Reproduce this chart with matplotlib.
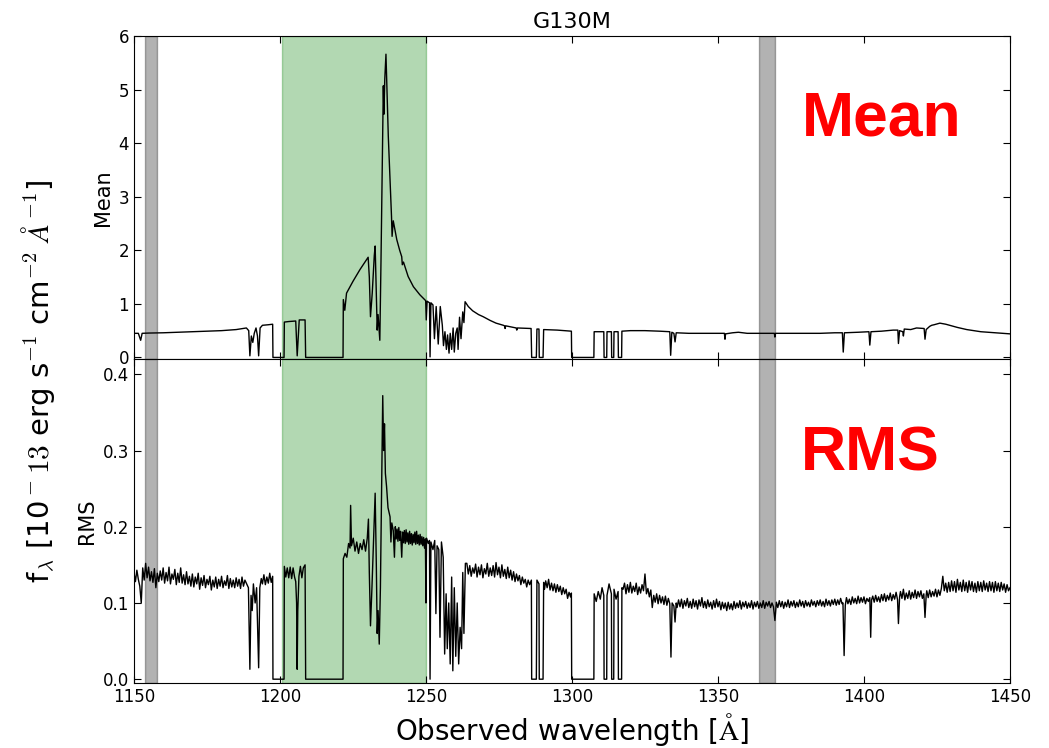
import matplotlib
matplotlib.use("Agg")
import matplotlib.pyplot as plt
import numpy as np

plt.rcParams['mathtext.fontset'] = 'cm'
plt.rcParams['font.family'] = 'DejaVu Sans'

# --- data (wavelength [A], value) ---
mean_pts = [
    (1150.0, 0.45), (1151.5, 0.45), (1152.3, 0.32), (1152.8, 0.45), (1155, 0.455),
    (1160, 0.46), (1165, 0.47), (1170, 0.48), (1175, 0.49), (1180, 0.50),
    (1185, 0.52), (1188.5, 0.55), (1189.3, 0.50), (1189.7, 0.03), (1190.2, 0.40),
    (1190.7, 0.28), (1191.2, 0.45), (1191.8, 0.55), (1192.3, 0.40), (1192.7, 0.03),
    (1193.2, 0.55), (1194, 0.60), (1196, 0.61), (1197.5, 0.62), (1197.6, 0.0),
    (1201.4, 0.0), (1201.5, 0.66), (1203, 0.67), (1205.4, 0.68), (1205.9, 0.03),
    (1206.6, 0.70), (1208.6, 0.70), (1208.8, 0.0), (1221.6, 0.0), (1221.7, 1.08),
    (1222.2, 0.88), (1222.8, 1.20), (1224, 1.32), (1225, 1.42), (1226.3, 1.54),
    (1227.4, 1.64), (1228.5, 1.73), (1229.4, 1.80), (1230.2, 1.87), (1230.6, 1.5),
    (1231.0, 0.76), (1231.6, 1.2), (1232.3, 1.9), (1232.6, 2.08), (1233.0, 1.2),
    (1233.3, 0.51), (1233.6, 0.8), (1233.9, 0.55), (1234.2, 0.32), (1234.6, 1.8),
    (1235.1, 3.8), (1235.4, 5.07), (1235.6, 4.54), (1235.9, 5.2), (1236.3, 5.66),
    (1236.7, 4.9), (1237.1, 4.13), (1237.7, 3.3), (1238.2, 2.63), (1238.4, 2.26),
    (1238.8, 2.55), (1240.0, 2.2), (1241.0, 2.0), (1241.7, 1.88), (1241.9, 1.73),
    (1242.3, 1.78), (1243.9, 1.51), (1245.7, 1.32), (1247.9, 1.17), (1249.9, 1.06),
    (1250.1, 0.70), (1250.4, 1.05), (1251.2, 1.02), (1251.4, 0.01), (1251.7, 1.02),
    (1252.4, 0.98), (1252.9, 0.35), (1253.5, 0.95), (1254.2, 0.25), (1254.9, 0.95),
    (1255.6, 0.6), (1256.0, 0.22), (1256.5, 0.48), (1257.0, 0.15), (1257.4, 0.42),
    (1257.9, 0.08), (1258.3, 0.45), (1258.8, 0.15), (1259.3, 0.55), (1259.7, 0.10),
    (1260.2, 0.45), (1260.7, 0.55), (1261.0, 0.15), (1261.5, 0.75), (1262.0, 0.35),
    (1262.6, 0.85), (1263.0, 0.65), (1263.4, 1.04), (1264.5, 0.95), (1266, 0.87),
    (1268, 0.80), (1269.6, 0.76), (1272, 0.69), (1274, 0.64), (1276.5, 0.60),
    (1276.9, 0.59), (1277.1, 0.54), (1277.3, 0.59), (1280, 0.56), (1280.9, 0.55),
    (1281.1, 0.51), (1281.3, 0.55), (1285.6, 0.54), (1286.0, 0.54), (1286.2, 0.0),
    (1287.8, 0.0), (1288.0, 0.53), (1288.7, 0.53), (1288.8, 0.0), (1290.1, 0.0),
    (1290.3, 0.52), (1295, 0.51), (1299.8, 0.49), (1299.9, 0.0), (1307.5, 0.0),
    (1307.6, 0.48), (1310.9, 0.48), (1311.0, 0.0), (1311.9, 0.0), (1312.0, 0.48),
    (1313.5, 0.48), (1313.6, 0.0), (1314.3, 0.0), (1314.4, 0.48), (1315.8, 0.48),
    (1315.9, 0.0), (1317.0, 0.0), (1317.1, 0.49), (1320, 0.50), (1325, 0.50),
    (1330, 0.49), (1333.5, 0.48), (1333.8, 0.04), (1334.2, 0.47), (1334.9, 0.45),
    (1335.3, 0.29), (1335.7, 0.46), (1340, 0.45), (1345, 0.45), (1350, 0.45),
    (1352.2, 0.45), (1352.4, 0.34), (1352.6, 0.44), (1355, 0.46), (1357, 0.47),
    (1360, 0.45), (1365, 0.45), (1369.3, 0.45), (1369.5, 0.38), (1369.7, 0.45),
    (1375, 0.45), (1380, 0.45), (1385, 0.45), (1390, 0.46), (1392.6, 0.46),
    (1392.9, 0.10), (1393.3, 0.46), (1398, 0.47), (1401.7, 0.48), (1402.0, 0.23),
    (1402.4, 0.48), (1406, 0.49), (1410, 0.51), (1411.6, 0.51), (1411.8, 0.26),
    (1412.2, 0.50), (1413.3, 0.48), (1413.5, 0.40), (1413.8, 0.53), (1416, 0.52),
    (1418, 0.55), (1420.6, 0.54), (1420.9, 0.34), (1421.3, 0.52), (1422.5, 0.58),
    (1423.2, 0.60), (1424, 0.61), (1426, 0.64), (1428, 0.62), (1432, 0.56),
    (1435.2, 0.52), (1440, 0.48), (1445, 0.46), (1450, 0.44),
]

rms_pts = [
    # blue continuum
    (1150.0, .140), (1150.5, .128), (1151.0, .143), (1151.5, .131), (1152.0, .122),
    (1152.5, .100), (1153.0, .146), (1153.5, .130), (1154.0, .152), (1154.5, .133),
    (1155.0, .147), (1155.5, .129), (1156.0, .141), (1156.5, .127), (1157.0, .145),
    (1157.5, .120), (1158.0, .139), (1158.5, .128), (1159.0, .142), (1159.5, .130),
    (1160.0, .146), (1160.5, .126), (1161.0, .140), (1161.5, .129), (1162.0, .147),
    (1162.5, .125), (1163.0, .138), (1163.5, .131), (1164.0, .144), (1164.5, .124),
    (1165.0, .139), (1165.5, .127), (1166.0, .146), (1166.5, .126), (1167.0, .137),
    (1167.5, .124), (1168.0, .141), (1168.5, .125), (1169.0, .135), (1169.5, .122),
    (1170.0, .138), (1170.5, .121), (1171.0, .134), (1171.5, .125), (1172.0, .139),
    (1172.5, .118), (1173.0, .133), (1173.5, .123), (1174.0, .136), (1174.5, .120),
    (1175.0, .131), (1175.5, .124), (1176.0, .135), (1176.5, .117), (1177.0, .130),
    (1177.5, .121), (1178.0, .134), (1178.5, .119), (1179.0, .131), (1179.5, .122),
    (1180.0, .135), (1180.5, .120), (1181.0, .129), (1181.5, .123), (1182.0, .136),
    (1182.5, .119), (1183.0, .132), (1183.5, .121), (1184.0, .130), (1184.5, .120),
    (1185.0, .133), (1185.5, .122), (1186.0, .131), (1186.5, .119), (1187.0, .134),
    (1187.5, .122), (1188.0, .130),
    # 1189-1222
    (1189.2, .12), (1189.7, .013), (1190.1, .11), (1190.5, .09), (1190.9, .125),
    (1191.5, .10), (1192.0, .12), (1192.7, .015), (1193.1, .12), (1193.6, .132),
    (1194.0, .125), (1194.5, .137), (1195.0, .124), (1195.5, .134), (1196.0, .126),
    (1196.5, .139), (1197.0, .127), (1197.5, .135), (1197.6, 0.0), (1201.4, 0.0),
    (1201.5, .148), (1202.0, .134), (1202.5, .146), (1203.0, .133), (1203.5, .147),
    (1204.0, .132), (1204.5, .146), (1205.0, .134), (1205.4, .128), (1205.7, .10),
    (1205.9, .013), (1206.1, .09), (1206.5, .135), (1207.0, .148), (1207.5, .133),
    (1208.0, .146), (1208.6, .15), (1208.8, 0.0), (1221.6, 0.0),
    # Lyman-alpha region
    (1221.7, .158), (1222.3, .165), (1222.9, .16), (1223.5, .178), (1224.0, .172),
    (1224.2, .228), (1224.5, .175), (1225.1, .185), (1225.7, .168), (1226.3, .18),
    (1226.9, .165), (1227.5, .178), (1228.1, .17), (1228.7, .183), (1229.3, .168),
    (1229.9, .185), (1230.3, .21), (1230.6, .14), (1231.0, .07), (1231.5, .12),
    (1232.2, .2), (1232.6, .244), (1233.0, .15), (1233.3, .06), (1233.6, .09),
    (1234.0, .046), (1234.4, .12), (1234.8, .25), (1235.2, .372), (1235.5, .30),
    (1235.8, .335), (1236.1, .27), (1236.5, .253), (1237.0, .225), (1237.7, .213),
    (1238.0, .18), (1238.3, .205), (1238.8, .195), (1239.2, .16), (1239.5, .2),
    (1239.8, .184), (1240.1, .197), (1240.4, .181), (1240.7, .199), (1241.0, .182),
    (1241.3, .194), (1241.7, .16), (1242.0, .193), (1242.3, .179), (1242.6, .195),
    (1242.9, .178), (1243.2, .196), (1243.5, .18), (1243.8, .192), (1244.1, .177),
    (1244.4, .194), (1244.7, .178), (1245.0, .191), (1245.3, .176), (1245.6, .19),
    (1245.9, .179), (1246.2, .193), (1246.5, .177), (1246.8, .194), (1247.1, .178),
    (1247.4, .189), (1247.7, .176), (1248.0, .19), (1248.3, .177), (1248.6, .187),
    (1248.9, .175), (1249.2, .186), (1249.5, .172), (1249.8, .184), (1250.0, .10),
    (1250.2, .185), (1250.8, .178), (1251.2, .182), (1251.4, 0.0), (1251.7, .18),
    (1252.4, .17), (1253.0, .182), (1253.4, .086), (1253.8, .175), (1254.4, .17),
    (1254.8, .055), (1255.3, .18), (1255.9, .16), (1256.4, .033), (1256.9, .112),
    (1257.3, .04), (1257.8, .10), (1258.3, .02), (1258.8, .134), (1259.2, .011),
    (1259.7, .12), (1260.2, .03), (1260.7, .10), (1261.2, .02), (1261.7, .068),
    (1262.2, .04), (1262.6, .14), (1263.0, .06), (1263.5, .152),
    # red side continuum
    (1264.0, .152), (1264.5, .138), (1265.0, .149), (1265.5, .135), (1266.0, .146),
    (1266.5, .139), (1267.0, .151), (1267.5, .134), (1268.0, .147), (1268.5, .137),
    (1269.0, .150), (1269.5, .133), (1270.0, .145), (1270.5, .138), (1271.0, .152),
    (1271.5, .135), (1272.0, .146), (1272.5, .136), (1273.0, .149), (1273.5, .134),
    (1274.0, .153), (1274.5, .137), (1275.0, .147), (1275.5, .133), (1276.0, .150),
    (1276.5, .135), (1277.0, .144), (1277.5, .132), (1278.0, .147), (1278.5, .133),
    (1279.0, .143), (1279.5, .130), (1280.0, .141), (1280.5, .128), (1281.0, .138),
    (1281.5, .129), (1282.0, .136), (1282.5, .124), (1283.0, .134), (1283.5, .126),
    (1284.0, .131), (1284.5, .121), (1285.0, .130), (1285.5, .124), (1286.1, .13),
    (1286.2, 0.0), (1287.8, 0.0), (1288.0, .13), (1288.7, .125), (1288.8, 0.0),
    (1290.1, 0.0), (1290.3, .127), (1290.6, .118), (1291.0, .129), (1291.5, .120),
    (1292.0, .131), (1292.5, .117), (1293.0, .126), (1293.5, .116), (1294.0, .125),
    (1294.5, .114), (1295.0, .124), (1295.5, .115), (1296.0, .122), (1296.5, .111),
    (1297.0, .120), (1297.5, .112), (1298.0, .118), (1298.5, .106), (1299.0, .114),
    (1299.5, .108), (1299.8, .113), (1299.9, 0.0), (1307.5, 0.0), (1307.6, .112),
    (1308.3, .102), (1309.0, .115), (1309.7, .105), (1310.3, .12), (1310.9, .11),
    (1311.0, 0.0), (1311.9, 0.0), (1312.0, .11), (1312.7, .125), (1313.5, .112),
    (1313.6, 0.0), (1314.3, 0.0), (1314.4, .118), (1315.1, .105), (1315.8, .115),
    (1315.9, 0.0), (1317.0, 0.0), (1317.1, .12),
    # long red continuum
    (1317.5, .118), (1318.0, .126), (1318.5, .112), (1319.0, .124), (1319.5, .114),
    (1320.0, .127), (1320.5, .113), (1321.0, .122), (1321.5, .115), (1322.0, .126),
    (1322.5, .111), (1323.0, .121), (1323.5, .113), (1324.0, .124), (1324.5, .116),
    (1325.0, .138), (1325.5, .112), (1326.0, .119), (1326.5, .108), (1327.0, .117),
    (1327.5, .094), (1328.0, .110), (1328.5, .101), (1329.0, .112), (1329.5, .099),
    (1330.0, .110), (1330.5, .100), (1331.0, .108), (1331.5, .098), (1332.0, .109),
    (1332.5, .097), (1333.0, .106), (1333.5, .099), (1333.9, .029), (1334.3, .100),
    (1334.9, .096), (1335.3, .075), (1335.7, .100), (1336.0, .094), (1336.5, .104),
    (1337.0, .095), (1337.5, .105), (1338.0, .093), (1338.5, .103), (1339.0, .096),
    (1339.5, .106), (1340.0, .094), (1340.5, .102), (1341.0, .093), (1341.5, .105),
    (1342.0, .095), (1342.5, .103), (1343.0, .092), (1343.5, .104), (1344.0, .096),
    (1344.5, .107), (1345.0, .094), (1345.5, .102), (1346.0, .093), (1346.5, .104),
    (1347.0, .095), (1347.5, .101), (1348.0, .092), (1348.5, .103), (1349.0, .094),
    (1349.5, .105), (1350.0, .095), (1350.5, .102), (1351.0, .091), (1351.5, .101),
    (1352.0, .093), (1352.5, .100), (1353.0, .090), (1353.5, .101), (1354.0, .092),
    (1354.5, .099), (1355.0, .091), (1355.5, .102), (1356.0, .093), (1356.5, .100),
    (1357.0, .094), (1357.5, .103), (1358.0, .092), (1358.5, .101), (1359.0, .095),
    (1359.5, .102), (1360.0, .093), (1360.5, .100), (1361.0, .094), (1361.5, .103),
    (1362.0, .092), (1362.5, .101), (1363.0, .095), (1363.5, .102), (1364.0, .093),
    (1364.5, .100), (1365.0, .094), (1365.5, .103), (1366.0, .093), (1366.5, .101),
    (1367.0, .096), (1367.5, .102), (1368.0, .094), (1368.5, .100), (1369.0, .095),
    (1369.5, .077), (1370.0, .101), (1370.5, .094), (1371.0, .103), (1371.5, .095),
    (1372.0, .102), (1372.5, .093), (1373.0, .101), (1373.5, .095), (1374.0, .104),
    (1374.5, .094), (1375.0, .102), (1375.5, .096), (1376.0, .103), (1376.5, .094),
    (1377.0, .101), (1377.5, .095), (1378.0, .104), (1378.5, .096), (1379.0, .102),
    (1379.5, .094), (1380.0, .103), (1380.5, .096), (1381.0, .101), (1381.5, .095),
    (1382.0, .104), (1382.5, .097), (1383.0, .102), (1383.5, .095), (1384.0, .103),
    (1384.5, .097), (1385.0, .104), (1385.5, .096), (1386.0, .102), (1386.5, .095),
    (1387.0, .105), (1387.5, .097), (1388.0, .103), (1388.5, .096), (1389.0, .104),
    (1389.5, .098), (1390.0, .105), (1390.5, .097), (1391.0, .104), (1391.5, .098),
    (1392.0, .106), (1392.5, .099), (1392.8, .100), (1393.2, .031), (1393.6, .097),
    (1394.0, .107), (1394.5, .099), (1395.0, .105), (1395.5, .098), (1396.0, .108),
    (1396.5, .100), (1397.0, .106), (1397.5, .099), (1398.0, .109), (1398.5, .100),
    (1399.0, .107), (1399.5, .101), (1400.0, .108), (1400.5, .099), (1401.0, .106),
    (1401.5, .102), (1402.0, .107), (1402.3, .055), (1402.6, .104), (1403.0, .109),
    (1403.5, .101), (1404.0, .110), (1404.5, .102), (1405.0, .108), (1405.5, .101),
    (1406.0, .111), (1406.5, .103), (1407.0, .112), (1407.5, .102), (1408.0, .110),
    (1408.5, .104), (1409.0, .113), (1409.5, .103), (1410.0, .111), (1410.5, .105),
    (1411.0, .114), (1411.5, .104), (1411.8, .073), (1412.2, .108), (1412.5, .115),
    (1413.0, .106), (1413.5, .118), (1414.0, .104), (1414.5, .113), (1415.0, .106),
    (1415.5, .116), (1416.0, .105), (1416.5, .114), (1417.0, .107), (1417.5, .117),
    (1418.0, .106), (1418.5, .115), (1419.0, .108), (1419.5, .116), (1420.0, .106),
    (1420.5, .112), (1420.9, .081), (1421.3, .110), (1421.5, .116), (1422.0, .107),
    (1422.5, .117), (1423.0, .108), (1423.5, .115), (1424.0, .109), (1424.5, .118),
    (1425.0, .108), (1425.5, .117), (1426.0, .110), (1426.5, .119), (1427.0, .135),
    (1427.5, .116), (1428.0, .126), (1428.5, .114), (1429.0, .127), (1429.5, .115),
    (1430.0, .129), (1430.5, .116), (1431.0, .128), (1431.5, .114), (1432.0, .131),
    (1432.5, .117), (1433.0, .127), (1433.5, .115), (1434.0, .130), (1434.5, .116),
    (1435.0, .127), (1435.5, .114), (1436.0, .129), (1436.5, .117), (1437.0, .128),
    (1437.5, .115), (1438.0, .126), (1438.5, .114), (1439.0, .128), (1439.5, .116),
    (1440.0, .127), (1440.5, .115), (1441.0, .129), (1441.5, .117), (1442.0, .126),
    (1442.5, .115), (1443.0, .128), (1443.5, .116), (1444.0, .127), (1444.5, .114),
    (1445.0, .128), (1445.5, .116), (1446.0, .126), (1446.5, .115), (1447.0, .127),
    (1447.5, .117), (1448.0, .125), (1448.5, .114), (1449.0, .124), (1449.5, .116),
    (1450.0, .120),
]

mean_wl, mean_flux = np.array(mean_pts).T
rms_wl, rms_flux = np.array(rms_pts).T

line_window = (1200.6, 1250.0)          # green band
masked = [(1153.8, 1157.8), (1364.2, 1369.4)]   # grey bands
x_ticks = [1150, 1200, 1250, 1300, 1350, 1400, 1450]

fig = plt.figure(figsize=(10.49, 7.48), dpi=100)
ax1 = fig.add_axes([0.1277, 0.52, 0.8351, 0.4319])
ax2 = fig.add_axes([0.1277, 0.0869, 0.8351, 0.4331], sharex=ax1)

for ax, wl, fl in [(ax1, mean_wl, mean_flux), (ax2, rms_wl, rms_flux)]:
    ax.axvspan(*line_window, color=(0, 0.5, 0), alpha=0.3, zorder=1)
    for lo, hi in masked:
        ax.axvspan(lo, hi, color='k', alpha=0.3, zorder=1)
    ax.plot(wl, fl, color='k', lw=1.0, zorder=2)
    ax.tick_params(direction='in', top=True, right=True, labelsize=12, length=5)

ax1.set_xlim(1150, 1450)
ax1.set_xticks(x_ticks)
ax1.tick_params(labelbottom=False)
ax1.set_ylim(-0.03, 6)
ax1.set_yticks([0, 1, 2, 3, 4, 5, 6])
ax1.set_ylabel('Mean', fontsize=15)
ax1.set_title('G130M', fontsize=16)

ax2.set_ylim(-0.005, 0.42)
ax2.set_yticks([0.0, 0.1, 0.2, 0.3, 0.4])
ax2.set_ylabel('RMS', fontsize=15)
ax2.set_xlabel(r'Observed wavelength [$\mathrm{\AA}$]', fontsize=20)

ax1.text(0.854, 0.743, 'Mean', transform=ax1.transAxes, color='red',
         fontsize=45, fontweight='bold', family='Liberation Sans',
         ha='center', va='center')
ax2.text(0.841, 0.707, 'RMS', transform=ax2.transAxes, color='red',
         fontsize=45, fontweight='bold', family='Liberation Sans',
         ha='center', va='center')

fig.text(0.036, 0.49,
         r'f$_\lambda$ [10$^-13$ erg s$^{-1}$ cm$^{-2}$ $\AA^{-1}$]',
         rotation=90, fontsize=21, ha='center', va='center')

fig.savefig('out.png', dpi=100, facecolor='white')
